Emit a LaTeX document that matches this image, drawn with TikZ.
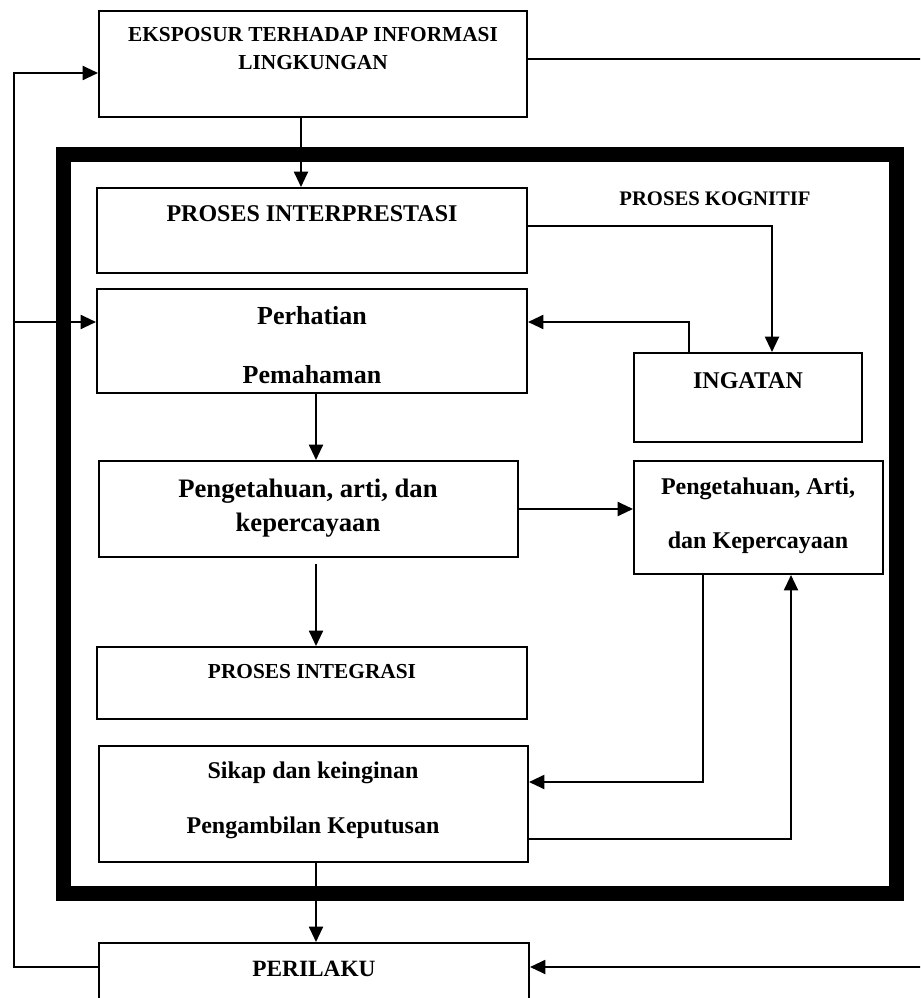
\documentclass[tikz,border=0pt]{standalone}
\usepackage{fontspec}
\setmainfont{Liberation Serif}
\usetikzlibrary{arrows.meta,fit}
\begin{document}
\begin{tikzpicture}[x=0.75pt,y=-0.75pt,
  box/.style={draw,line width=1.5pt,inner sep=0pt},
  conn/.style={line width=1.5pt},
  arr/.style={conn,-{Triangle[length=11.5pt,width=10.5pt]}},
  txt/.style={anchor=base,inner sep=0pt,font=\bfseries},
  frame/.style={line width=11.25pt}]
\useasboundingbox (0,0) rectangle (920,998);
\clip (0,0) rectangle (920,998);
% thick frame
\draw[frame] (63,155) rectangle (896,893);
% boxes
\node[box,fit={(99,11) (527,117)}] (eks) {};
\node[box,fit={(97,188) (527,273)}] (pi) {};
\node[box,fit={(97,289) (527,393)}] (perh) {};
\node[box,fit={(634,353) (862,442)}] (ing) {};
\node[box,fit={(99,461) (518,557)}] (pk) {};
\node[box,fit={(634,461) (883,574)}] (pkr) {};
\node[box,fit={(97,647) (527,719)}] (integ) {};
\node[box,fit={(99,746) (528,862)}] (sikap) {};
\node[box,fit={(99,943) (529,1020)}] (peri) {};
% texts
\node[txt,font=\bfseries\fontsize{16}{18}\selectfont] (t1) at (313,42) {EKSPOSUR TERHADAP INFORMASI};
\node[txt,font=\bfseries\fontsize{16}{18}\selectfont] (t2) at (313,70) {LINGKUNGAN};
\node[txt,font=\bfseries\fontsize{18}{20}\selectfont] (t3) at (312,222) {PROSES INTERPRESTASI};
\node[txt,font=\bfseries\fontsize{15.5}{18}\selectfont] (t4) at (715,206) {PROSES KOGNITIF};
\node[txt,font=\bfseries\fontsize{19.5}{22}\selectfont] (t5) at (312,324) {Perhatian};
\node[txt,font=\bfseries\fontsize{19.5}{22}\selectfont] (t6) at (312,383) {Pemahaman};
\node[txt,font=\bfseries\fontsize{18}{20}\selectfont] (t7) at (748,388) {INGATAN};
\node[txt,font=\bfseries\fontsize{20}{22}\selectfont] (t8) at (308,497) {Pengetahuan, arti, dan};
\node[txt,font=\bfseries\fontsize{20}{22}\selectfont] (t9) at (308,531) {kepercayaan};
\node[txt,font=\bfseries\fontsize{18}{20}\selectfont] (t10) at (758,494) {Pengetahuan, Arti,};
\node[txt,font=\bfseries\fontsize{18}{20}\selectfont] (t11) at (758,548) {dan Kepercayaan};
\node[txt,font=\bfseries\fontsize{16}{18}\selectfont] (t12) at (312,678) {PROSES INTEGRASI};
\node[txt,font=\bfseries\fontsize{18}{20}\selectfont] (t13) at (313,778) {Sikap dan keinginan};
\node[txt,font=\bfseries\fontsize{18}{20}\selectfont] (t14) at (313,833) {Pengambilan Keputusan};
\node[txt,font=\bfseries\fontsize{17.5}{20}\selectfont] (t15) at (314,976) {PERILAKU};
% free-end coordinates
\coordinate (eR) at (922,59);
\coordinate (pR) at (922,967);
\coordinate (lx) at (14,322);
\coordinate (pkb) at (316,564);
% connectors
\draw[conn] (eks.east |- 0,59) -- (eR);
\draw[arr] (pR) -- (peri.east |- 0,967);
\draw[arr] (peri.west |- 0,967) -- (14,967) -- (14,73) -- (eks.west |- 0,73);
\draw[arr] (lx) -- (perh.west |- lx);
\draw[arr] (eks.south -| 301,0) -- (pi.north -| 301,0);
\draw[arr] (pi.east |- 0,226) -- (772,226) -- (ing.north -| 772,0);
\draw[arr] (ing.north -| 689,0) -- (689,322) -- (perh.east |- 0,322);
\draw[arr] (perh.south -| 316,0) -- (pk.north -| 316,0);
\draw[arr] (pk.east |- 0,509) -- (pkr.west |- 0,509);
\draw[arr] (pkb) -- (integ.north -| pkb);
\draw[arr] (pkr.south -| 703,0) -- (703,782) -- (sikap.east |- 0,782);
\draw[arr] (sikap.east |- 0,839) -- (791,839) -- (pkr.south -| 791,0);
\draw[arr] (sikap.south -| 316,0) -- (peri.north -| 316,0);
\end{tikzpicture}
\end{document}
